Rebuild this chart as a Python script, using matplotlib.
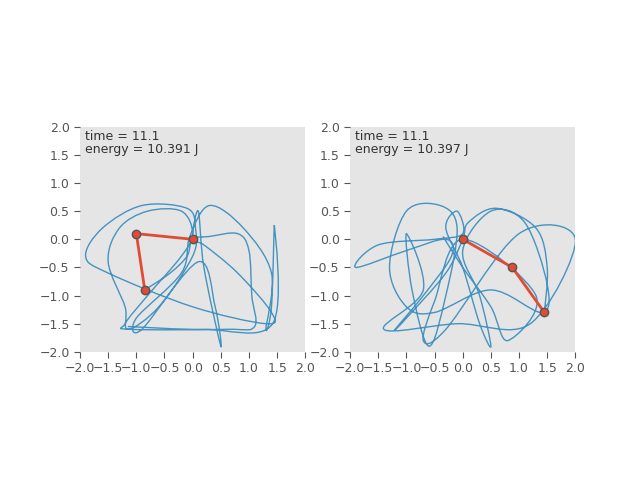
import matplotlib
matplotlib.use("Agg")
import matplotlib.pyplot as plt
from matplotlib.path import Path
from matplotlib.patches import PathPatch

# traced paths of the second bob
trace_left = [(-0.85, -0.9), (-0.4, -0.6), (-0.1, -0.3), (0, 0), (0.3, 0.05), (0.8, 0.1), (1.0, -0.2),
              (1.05, -1.0), (1.1, -1.55), (0.6, -1.6), (-1.1, -1.6), (-1.2, -1.5), (-0.8, -1.0), (-0.2, -0.3),
              (0, 0.1), (-0.2, 0.5), (-0.8, 0.5), (-1.3, 0.2), (-1.5, -0.4), (-1.2, -1.2), (-1.15, -1.6),
              (-0.6, -1.2), (0, -0.3), (0.05, 0.2), (-0.1, 0.55), (-0.9, 0.6), (-1.6, 0.2), (-1.9, -0.3),
              (-1.5, -0.6), (0, -1.2), (1.3, -1.5), (1.4, -1.3), (0.8, -0.6), (0.2, -0.1), (0.0, 0.0),
              (0.1, 0.5), (0.2, -0.5), (0.5, -1.9), (0.4, -1.2), (0.1, -0.4), (-0.9, -1.6), (-1.0, -1.4),
              (-0.2, -0.6), (-0.05, 0.05), (0.3, 0.6), (0.9, 0.2), (1.4, -0.6), (1.3, -1.6), (1.4, -1.2),
              (1.45, 0.25), (1.42, -1.5), (0.2, -1.6), (-1.15, -1.55)]
trace_right = [(1.45, -1.3), (1.5, -0.5), (1.3, 0.2), (0.6, 0.55), (0.1, 0.3), (0, 0), (-0.3, -0.6),
               (-1.0, -1.4), (-1.2, -1.6), (-0.7, -1.0), (-0.2, -0.3), (-0.3, 0.0), (-1.0, -0.2), (-1.9, -0.5),
               (-1.5, -0.1), (-0.5, 0.0), (0, 0.1), (-0.1, 0.5), (-0.3, 0.2), (0, -0.5), (0.3, -1.5),
               (0.5, -1.9), (0.3, -1.0), (0.0, -0.2), (0.5, 0.5), (1.1, 0.3), (1.5, -0.8), (1.4, -1.3),
               (0.5, -0.9), (-0.5, -1.3), (-1.0, -1.2), (-1.3, -0.5), (-1.0, 0.5), (-0.4, 0.6), (-0.1, 0.2),
               (-0.3, -1.0), (-0.6, -1.9), (-0.9, -0.9), (-1.0, 0.1), (-0.7, -0.9), (-1.4, -1.6), (-0.1, -1.5),
               (1.2, -1.5), (2.0, 0.0), (1.0, 0.1), (-0.3, -1.6), (-0.7, -1.8), (-0.5, -1.1), (0.0, 0.0),
               (1.3, -1.0), (0.8, -1.8), (0.5, -1.2), (0.0, -0.5), (-0.35, 0.05)]

arm_left_x = [0, -1.0, -0.85]
arm_left_y = [0, 0.1, -0.9]
arm_right_x = [0, 0.88, 1.45]
arm_right_y = [0, -0.5, -1.3]

labels_left = ["time = 11.1", "energy = 10.391 J"]
labels_right = ["time = 11.1", "energy = 10.397 J"]


def smooth_path(pts):
    # Catmull-Rom through the traced points, drawn as cubic Bezier segments
    verts = [pts[0]]
    codes = [Path.MOVETO]
    n = len(pts)
    for i in range(n - 1):
        p0 = pts[max(i - 1, 0)]
        p1 = pts[i]
        p2 = pts[i + 1]
        p3 = pts[min(i + 2, n - 1)]
        c1 = (p1[0] + (p2[0] - p0[0]) / 6, p1[1] + (p2[1] - p0[1]) / 6)
        c2 = (p2[0] - (p3[0] - p1[0]) / 6, p2[1] - (p3[1] - p1[1]) / 6)
        verts += [c1, c2, p2]
        codes += [Path.CURVE4] * 3
    return Path(verts, codes)


fig = plt.figure(figsize=(6.4, 4.8), dpi=100)
panels = [
    (0.125, trace_left, arm_left_x, arm_left_y, labels_left),
    (0.547, trace_right, arm_right_x, arm_right_y, labels_right),
]
for left, trace, ax_x, ax_y, labels in panels:
    ax = fig.add_axes([left, 0.267, 0.352, 0.469])
    ax.set_facecolor("#e5e5e5")
    for s in ax.spines.values():
        s.set_visible(False)
    ax.add_patch(PathPatch(smooth_path(trace), fill=False, edgecolor="#348abd", lw=1, alpha=0.9))
    ax.plot(ax_x, ax_y, "o-", color="#e24a33", lw=2, ms=6, mec="#555555")
    ax.set_xlim(-2, 2)
    ax.set_ylim(-2, 2)
    ax.set_xticks([-2, -1.5, -1, -0.5, 0, 0.5, 1, 1.5, 2])
    ax.set_yticks([-2, -1.5, -1, -0.5, 0, 0.5, 1, 1.5, 2])
    ax.tick_params(labelsize=9, colors="#555555", length=4, direction="out")
    ax.text(0.02, 0.985, labels[0] + "\n" + labels[1], transform=ax.transAxes, va="top",
            fontsize=9, color="#333333", linespacing=0.95)

fig.savefig("out.png")
